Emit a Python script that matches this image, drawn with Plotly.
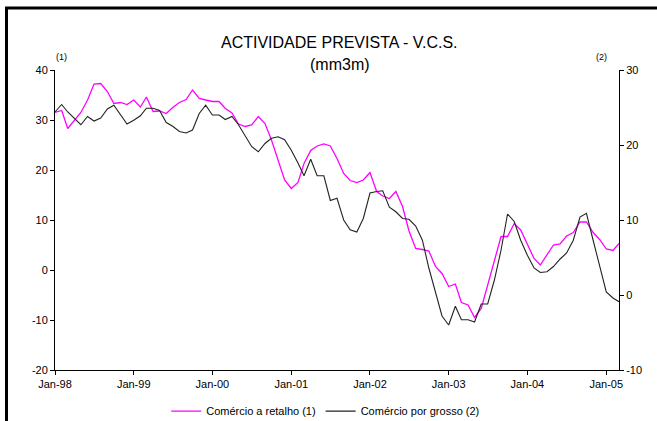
"""Actividade prevista - V.C.S. (mm3m)"""
import pandas as pd
import plotly.graph_objects as go

months = pd.date_range("1998-01-01", "2005-03-01", freq="MS")

# Comércio a retalho (1), left axis
retalho = [
    31.5, 31.9, 28.3, 29.9, 31.5, 34.0, 37.2, 37.3, 35.7, 33.3, 33.5, 33.1,
    34.0, 32.6, 34.6, 31.7, 31.8, 31.3, 32.5, 33.5, 34.1, 36.0, 34.3, 34.0,
    33.7, 33.7, 32.3, 31.4, 29.2, 28.7, 29.0, 30.7, 29.3, 26.0, 21.7, 18.0,
    16.3, 17.5, 21.3, 23.9, 24.8, 25.2, 24.8, 22.3, 19.3, 17.9, 17.5, 18.0,
    19.5, 15.7, 14.8, 14.3, 15.7, 12.7, 7.8, 4.3, 4.1, 3.8, 0.7, -0.7,
    -3.3, -2.8, -6.5, -7.0, -9.5, -7.7, -3.0, 2.0, 6.7, 6.7, 9.3, 8.0,
    5.3, 2.3, 1.0, 3.0, 5.0, 5.2, 6.8, 7.5, 9.6, 9.6, 7.5, 6.1,
    4.2, 3.9, 5.3,
]

# Comércio por grosso (2), right axis
grosso = [
    24.4, 25.4, 24.4, 23.6, 22.7, 23.8, 23.2, 23.6, 24.8, 25.3, 24.0, 22.8,
    23.3, 23.9, 24.9, 24.9, 24.6, 23.0, 22.5, 21.8, 21.6, 22.0, 24.2, 25.3,
    24.0, 24.0, 23.4, 23.8, 22.7, 21.3, 19.8, 19.1, 20.2, 20.9, 21.1, 20.7,
    19.3, 17.6, 15.9, 18.1, 15.9, 15.9, 12.6, 12.9, 10.0, 8.7, 8.4, 10.2,
    13.6, 13.8, 13.9, 11.7, 11.1, 10.2, 10.1, 9.2, 7.3, 3.6, 0.2, -2.8,
    -4.0, -1.5, -3.3, -3.3, -3.6, -1.2, -1.2, 2.0, 6.0, 10.8, 9.8, 7.3,
    5.3, 3.6, 3.0, 3.1, 3.8, 4.8, 5.6, 7.3, 10.4, 10.9, 7.3, 3.8,
    0.4, -0.4, -0.9,
]

left_ticks = [-20, -10, 0, 10, 20, 30, 40]
left_labels = ["-20", "-10", "0", "10", "20", "30", "40"]
right_ticks = [-10, 0, 10, 20, 30]
right_labels = ["-10", "0", "10", "20", "30"]

font = "Liberation Sans, Arial, sans-serif"

fig = go.Figure()
fig.add_trace(go.Scatter(x=months, y=retalho, mode="lines", name="Comércio a retalho (1)",
                         line=dict(color="#ff00ff", width=1.3)))
fig.add_trace(go.Scatter(x=months, y=grosso, mode="lines", name="Comércio por grosso (2)",
                         yaxis="y2", line=dict(color="#222222", width=1.1)))

axis_style = dict(showgrid=False, zeroline=False, showline=True, linecolor="black", linewidth=1,
                  ticks="outside", ticklen=4, tickcolor="black", automargin=False,
                  tickfont=dict(family=font, size=11, color="black"))

fig.update_layout(
    width=657, height=421,
    margin=dict(l=55, r=38, t=70, b=51, autoexpand=False),
    paper_bgcolor="white", plot_bgcolor="white",
    font=dict(family=font, size=11, color="black"),
    showlegend=True,
    legend=dict(orientation="h", x=0.48, xanchor="center", y=-0.137, yanchor="middle",
                font=dict(family=font, size=11), itemwidth=30, tracegroupgap=0),
    xaxis=dict(axis_style, type="date", range=["1998-01-01", "2005-03-01"],
               tick0="1998-01-01", dtick="M12", tickformat="%b-%y"),
    yaxis=dict(axis_style, range=[-20, 40], tickvals=left_ticks, ticktext=left_labels),
    yaxis2=dict(axis_style, range=[-10, 30], tickvals=right_ticks, ticktext=right_labels,
                overlaying="y", side="right"),
    annotations=[
        dict(text="ACTIVIDADE PREVISTA - V.C.S.", xref="paper", yref="paper", x=0.505, y=1.09,
             yanchor="middle", showarrow=False, font=dict(family=font, size=16)),
        dict(text="(mm3m)", xref="paper", yref="paper", x=0.505, y=1.017,
             yanchor="middle", showarrow=False, font=dict(family=font, size=16)),
        dict(text="(1)", xref="paper", yref="paper", x=-0.002, y=1.043,
             yanchor="middle", showarrow=False, font=dict(family=font, size=9)),
        dict(text="(2)", xref="paper", yref="paper", x=0.983, y=1.043,
             yanchor="middle", showarrow=False, font=dict(family=font, size=9)),
    ],
    shapes=[
        dict(type="rect", xref="paper", yref="paper", x0=-0.086, x1=1.3, y0=-0.5, y1=1.207,
             line=dict(color="black", width=3), layer="below"),
    ],
)

# drop the browser's default body margin so the figure sits at the page corner
fig.write_html("out.html", config={"displayModeBar": False},
               post_script="document.body.style.margin='0px';")
